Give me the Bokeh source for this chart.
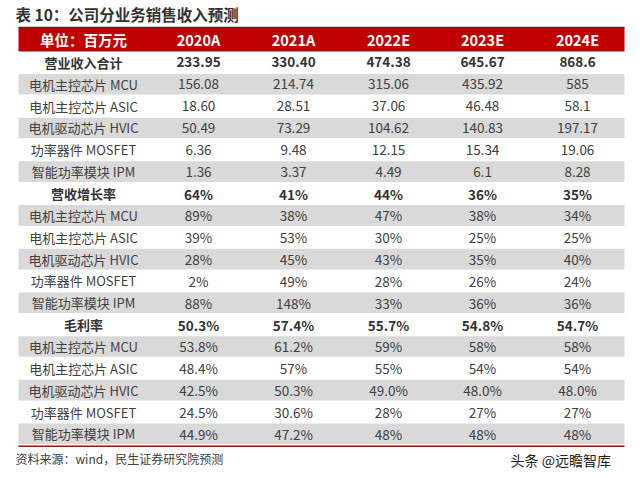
from bokeh.plotting import figure
from bokeh.models import Range1d
from bokeh.core.properties import value
from bokeh.embed import file_html
from bokeh.resources import INLINE

title = "表 10：公司分业务销售收入预测"
source_note = "资料来源：wind，民生证券研究院预测"
header = ["单位：百万元", "2020A", "2021A", "2022E", "2023E", "2024E"]
row_labels = ["营业收入合计", "电机主控芯片 MCU", "电机主控芯片 ASIC", "电机驱动芯片 HVIC",
              "功率器件 MOSFET", "智能功率模块 IPM",
              "营收增长率", "电机主控芯片 MCU", "电机主控芯片 ASIC", "电机驱动芯片 HVIC",
              "功率器件 MOSFET", "智能功率模块 IPM",
              "毛利率", "电机主控芯片 MCU", "电机主控芯片 ASIC", "电机驱动芯片 HVIC",
              "功率器件 MOSFET", "智能功率模块 IPM"]
col_2020A = ["233.95", "156.08", "18.60", "50.49", "6.36", "1.36",
             "64%", "89%", "39%", "28%", "2%", "88%",
             "50.3%", "53.8%", "48.4%", "42.5%", "24.5%", "44.9%"]
col_2021A = ["330.40", "214.74", "28.51", "73.29", "9.48", "3.37",
             "41%", "38%", "53%", "45%", "49%", "148%",
             "57.4%", "61.2%", "57%", "50.3%", "30.6%", "47.2%"]
col_2022E = ["474.38", "315.06", "37.06", "104.62", "12.15", "4.49",
             "44%", "47%", "30%", "43%", "28%", "33%",
             "55.7%", "59%", "55%", "49.0%", "28%", "48%"]
col_2023E = ["645.67", "435.92", "46.48", "140.83", "15.34", "6.1",
             "36%", "38%", "25%", "35%", "26%", "36%",
             "54.8%", "58%", "54%", "48.0%", "27%", "48%"]
col_2024E = ["868.6", "585", "58.1", "197.17", "19.06", "8.28",
             "35%", "34%", "25%", "40%", "24%", "36%",
             "54.7%", "58%", "54%", "48.0%", "27%", "48%"]
bold_rows = [0, 6, 12]

W, H = 640, 478
FONT = "Noto Sans CJK SC"
p = figure(width=W, height=H, output_backend="svg", toolbar_location=None,
           x_range=Range1d(0, W), y_range=Range1d(H, 0), min_border=0)
p.axis.visible = False
p.grid.visible = False
p.outline_line_color = None
p.background_fill_color = "white"

# layout (in figure pixels)
left, right = 18, 624
head_top, head_bot = 27, 51
row_h = 21.85
col_x = [83, 198, 293, 388, 482, 577]
columns = [row_labels, col_2020A, col_2021A, col_2022E, col_2023E, col_2024E]

# title
p.text(x=[15], y=[13], text=[title], text_font=value(FONT), text_font_size="15.5px",
       text_font_style="bold", text_color="#333333", text_baseline="middle", text_align="left")

# header
p.quad(left=[left], right=[right], top=[head_top], bottom=[head_bot],
       fill_color="#C00000", line_color=None)
p.segment(x0=[left], x1=[right], y0=[head_top], y1=[head_top], line_color="#3a3a3a", line_width=1.5)
p.text(x=col_x, y=[(head_top + head_bot) / 2] * 6, text=header, text_font=value(FONT),
       text_font_size="14.5px", text_font_style="bold", text_color="white",
       text_baseline="middle", text_align="center")

n = len(row_labels)
gray = [i for i in range(n) if i % 2 == 1]
p.quad(left=[left] * len(gray), right=[right] * len(gray),
       top=[head_bot + i * row_h + 0.6 for i in gray],
       bottom=[head_bot + (i + 1) * row_h - 0.6 for i in gray],
       fill_color="#D9D9D9", line_color=None)

for ci, col in enumerate(columns):
    for ri, txt in enumerate(col):
        b = ri in bold_rows
        p.text(x=[col_x[ci]], y=[head_bot + (ri + 0.5) * row_h], text=[txt],
               text_font=value(FONT), text_font_size="13px" if ci == 0 else "13.5px",
               text_font_style="bold" if b else "normal",
               text_color="#333333" if b else "#404040",
               text_baseline="middle", text_align="center")

bot = head_bot + n * row_h + 1.5
p.segment(x0=[left], x1=[right], y0=[bot], y1=[bot], line_color="#C00000", line_width=1.5)

p.text(x=[15], y=[458], text=[source_note], text_font=value(FONT), text_font_size="12px",
       text_color="#404040", text_baseline="middle", text_align="left")
p.text(x=[510], y=[459], text=["头条 @远瞻智库"], text_font=value(FONT), text_font_size="14px",
       text_color="#222222", text_baseline="middle", text_align="left")

open("out.html", "w").write(file_html(p, INLINE))
